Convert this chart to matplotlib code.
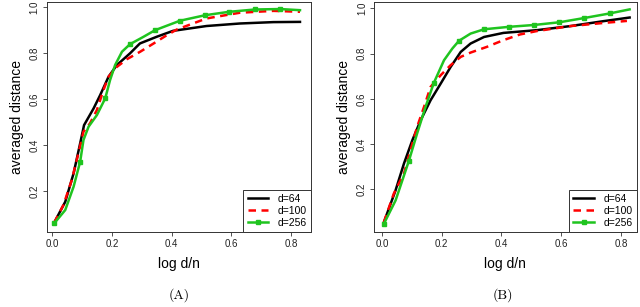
import matplotlib
matplotlib.use("Agg")
import matplotlib.pyplot as plt

plt.rcParams["font.family"] = ["Liberation Sans", "DejaVu Sans"]

# panel A: values
a_black_x = [0.007, 0.044, 0.072, 0.094, 0.107, 0.139, 0.161, 0.189, 0.217, 0.261, 0.294,
             0.35, 0.405, 0.517, 0.629, 0.741, 0.83]
a_black_y = [0.062, 0.153, 0.277, 0.408, 0.487, 0.56, 0.618, 0.698, 0.749, 0.80, 0.843,
             0.872, 0.898, 0.919, 0.93, 0.936, 0.937]
a_red_x = [0.007, 0.038, 0.066, 0.088, 0.105, 0.127, 0.15, 0.172, 0.189, 0.217, 0.25, 0.295,
           0.34, 0.384, 0.418, 0.517, 0.629, 0.741, 0.83]
a_red_y = [0.062, 0.139, 0.248, 0.364, 0.458, 0.495, 0.553, 0.64, 0.698, 0.741, 0.774, 0.807,
           0.843, 0.879, 0.904, 0.952, 0.977, 0.985, 0.981]
a_green_x = [0.007, 0.044, 0.072, 0.094, 0.105, 0.122, 0.15, 0.178, 0.194, 0.211, 0.234,
             0.261, 0.306, 0.345, 0.428, 0.512, 0.593, 0.679, 0.763, 0.83]
a_green_y = [0.059, 0.117, 0.219, 0.328, 0.422, 0.48, 0.531, 0.604, 0.683, 0.749, 0.807,
             0.84, 0.872, 0.901, 0.942, 0.966, 0.981, 0.991, 0.993, 0.988]
a_green_marks = [0, 3, 7, 11, 13, 14, 15, 16, 17, 18]

# panel B
b_black_x = [0.007, 0.046, 0.074, 0.102, 0.13, 0.163, 0.197, 0.23, 0.264, 0.297, 0.342,
             0.407, 0.518, 0.63, 0.742, 0.829]
b_black_y = [0.055, 0.196, 0.314, 0.417, 0.506, 0.594, 0.668, 0.741, 0.808, 0.845, 0.874,
             0.892, 0.904, 0.922, 0.944, 0.96]
b_red_x = [0.007, 0.04, 0.074, 0.096, 0.118, 0.141, 0.163, 0.197, 0.23, 0.264, 0.297, 0.351,
           0.407, 0.462, 0.518, 0.63, 0.742, 0.82]
b_red_y = [0.055, 0.181, 0.27, 0.373, 0.476, 0.564, 0.653, 0.705, 0.749, 0.786, 0.805, 0.83,
           0.86, 0.885, 0.9, 0.922, 0.936, 0.945]
b_green_x = [0.007, 0.046, 0.09, 0.118, 0.146, 0.174, 0.208, 0.236, 0.258, 0.297, 0.342,
             0.427, 0.509, 0.594, 0.678, 0.762, 0.829]
b_green_y = [0.048, 0.151, 0.324, 0.447, 0.564, 0.671, 0.771, 0.823, 0.857, 0.889, 0.908,
             0.919, 0.927, 0.939, 0.958, 0.978, 0.996]
b_green_marks = [0, 2, 5, 8, 10, 11, 12, 13, 14, 15]

x_ticks = [0.0, 0.2, 0.4, 0.6, 0.8]
y_ticks = [0.2, 0.4, 0.6, 0.8, 1.0]
labels = ["d=64", "d=100", "d=256"]

GREEN = "#1fc41f"


def draw_panel(ax, black, red, green, marks, xlim, ylim):
    ax.plot(black[0], black[1], color="black", lw=1.8, label=labels[0])
    ax.plot(red[0], red[1], color="red", lw=1.8, ls=(0, (3, 2.2)), label=labels[1])
    ax.plot(green[0], green[1], color=GREEN, lw=1.8, marker="s", ms=3.5,
            markevery=marks, label=labels[2])
    ax.set_xlim(*xlim)
    ax.set_ylim(*ylim)
    ax.set_xticks(x_ticks)
    ax.set_xticklabels([f"{t:.1f}" for t in x_ticks])
    ax.set_yticks(y_ticks)
    ax.set_yticklabels([f"{t:.1f}" for t in y_ticks], rotation=90, va="center")
    ax.tick_params(labelsize=7, length=3, width=0.6, color="#333333", labelcolor="#222222", pad=2)
    for s in ax.spines.values():
        s.set_linewidth(0.7)
        s.set_color("#333333")
    ax.set_xlabel("log d/n", fontsize=10, labelpad=6)
    ax.set_ylabel("averaged distance", fontsize=10, labelpad=4)
    leg = ax.legend(loc="lower right", borderaxespad=0, fancybox=False, edgecolor="#333333",
                    framealpha=1, fontsize=7.5, handlelength=2.0, handletextpad=0.9,
                    borderpad=0.4, labelspacing=0.2)
    leg.get_frame().set_linewidth(0.7)


fig = plt.figure(figsize=(6.4, 3.07), dpi=100)
ax1 = fig.add_axes([0.073, 0.244, 0.413, 0.749])
ax2 = fig.add_axes([0.584, 0.244, 0.411, 0.749])

draw_panel(ax1, (a_black_x, a_black_y), (a_red_x, a_red_y), (a_green_x, a_green_y),
           a_green_marks, (-0.018, 0.867), (0.021, 1.023))
draw_panel(ax2, (b_black_x, b_black_y), (b_red_x, b_red_y), (b_green_x, b_green_y),
           b_green_marks, (-0.027, 0.853), (0.011, 1.028))

fig.text(179 / 640, 1 - 295 / 307, "(A)", ha="center", va="center", fontsize=10,
         family=["cmr10", "DejaVu Serif"])
fig.text(503 / 640, 1 - 295 / 307, "(B)", ha="center", va="center", fontsize=10,
         family=["cmr10", "DejaVu Serif"])

fig.savefig("out.png", dpi=100)
